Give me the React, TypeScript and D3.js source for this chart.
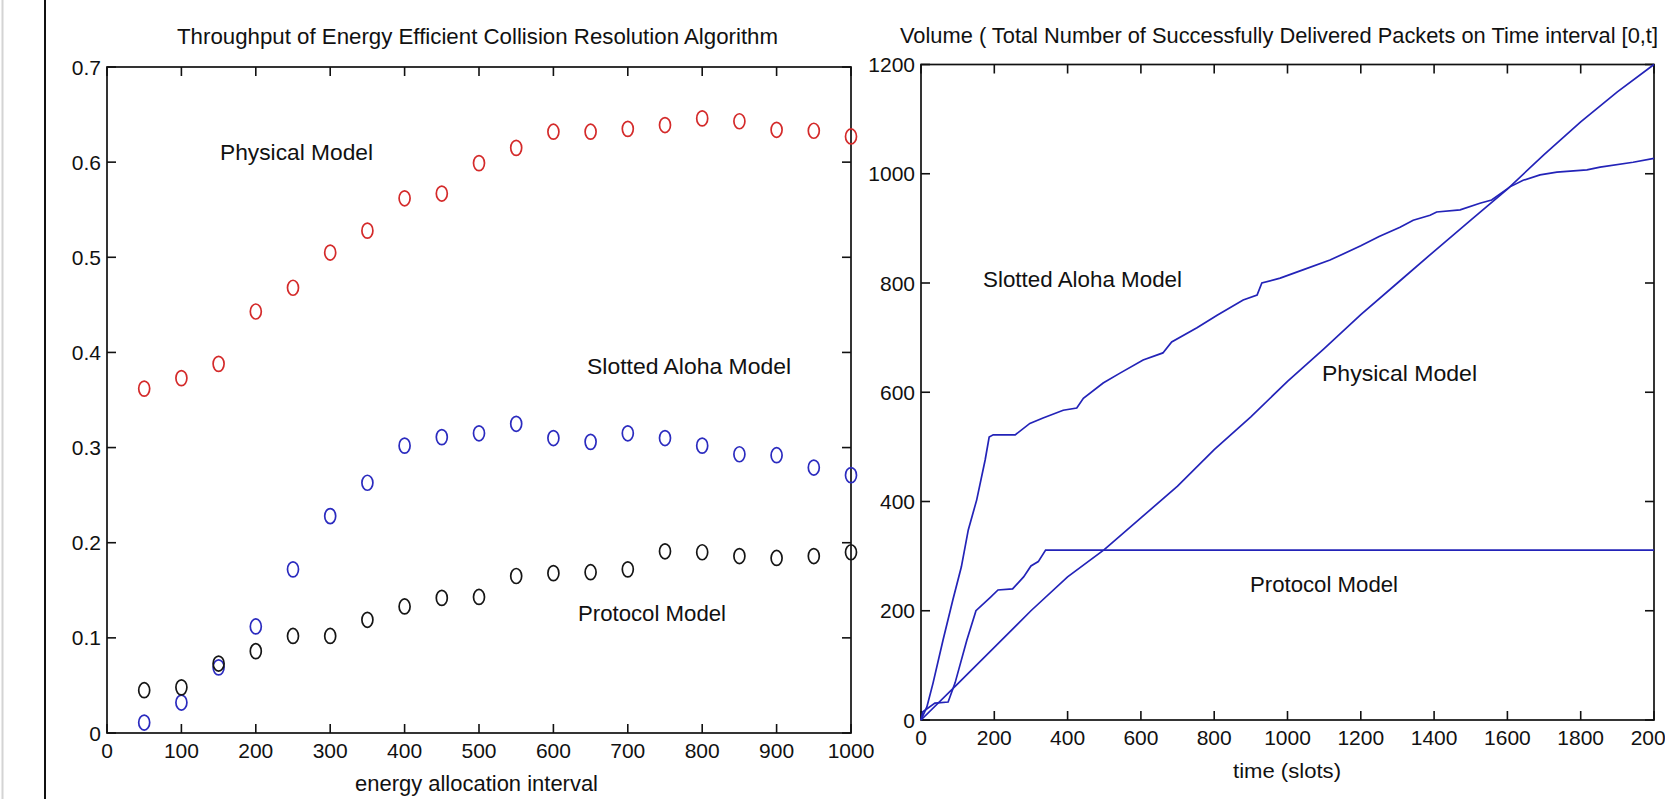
import React from "react";
import * as d3 from "d3";

// left panel: throughput vs energy allocation interval
const energyInterval = [50, 100, 150, 200, 250, 300, 350, 400, 450, 500, 550, 600, 650, 700, 750, 800, 850, 900, 950, 1000];
const physicalThroughput = [0.362, 0.373, 0.388, 0.443, 0.468, 0.505, 0.528, 0.562, 0.567, 0.599, 0.615, 0.632, 0.632, 0.635, 0.639, 0.646, 0.643, 0.634, 0.633, 0.627];
const slottedThroughput = [0.011, 0.032, 0.069, 0.112, 0.172, 0.228, 0.263, 0.302, 0.311, 0.315, 0.325, 0.31, 0.306, 0.315, 0.31, 0.302, 0.293, 0.292, 0.279, 0.271];
const protocolThroughput = [0.045, 0.048, 0.073, 0.086, 0.102, 0.102, 0.119, 0.133, 0.142, 0.143, 0.165, 0.168, 0.169, 0.172, 0.191, 0.19, 0.186, 0.184, 0.186, 0.19];

const leftXTicks = [0, 100, 200, 300, 400, 500, 600, 700, 800, 900, 1000];
const leftYTicks = [0, 0.1, 0.2, 0.3, 0.4, 0.5, 0.6, 0.7];

// right panel: cumulative delivered packets vs time (slots)
const slottedVolume: [number, number][] = [
  [0, 0], [16, 24], [33, 68], [60, 146], [87, 220], [110, 280], [129, 348], [152, 403], [175, 476], [186, 518],
  [197, 522], [257, 522], [297, 543], [333, 553], [388, 567], [425, 571], [443, 589], [497, 617], [543, 635],
  [606, 659], [660, 672], [684, 692], [753, 718], [808, 741], [879, 769], [917, 778], [930, 800], [980, 809],
  [1042, 824], [1116, 842], [1200, 868], [1250, 885], [1307, 902], [1343, 915], [1389, 924], [1407, 930],
  [1471, 934], [1525, 946], [1557, 952], [1607, 976], [1643, 988], [1689, 998], [1735, 1003], [1817, 1007],
  [1853, 1012], [1943, 1021], [2000, 1028],
];
const physicalVolume: [number, number][] = [
  [0, 0], [100, 66], [200, 133], [300, 200], [400, 262], [500, 312], [600, 370], [700, 428], [800, 495],
  [900, 555], [1000, 620], [1100, 680], [1200, 742], [1300, 800], [1400, 858], [1500, 915], [1600, 972],
  [1700, 1035], [1800, 1095], [1900, 1150], [2000, 1200],
];
const protocolVolume: [number, number][] = [
  [0, 0], [5, 15], [38, 31], [74, 33], [93, 68], [125, 146], [150, 200], [190, 225], [210, 238], [250, 240],
  [280, 262], [300, 282], [320, 290], [340, 311], [2000, 311],
];

const rightXTicks = [0, 200, 400, 600, 800, 1000, 1200, 1400, 1600, 1800, 2000];
const rightYTicks = [0, 200, 400, 600, 800, 1000, 1200];

const W = 1665;
const H = 799;
const font = "'Liberation Sans', Arial, sans-serif";
const tickLen = 9;

const leftBox = { x0: 107, x1: 851, y0: 67, y1: 733 };
const rightBox = { x0: 921, x1: 1654, y0: 64.5, y1: 720 };

type Box = typeof leftBox;

function Frame({ box, x, y, xTicks, yTicks, fmtY }: {
  box: Box;
  x: d3.ScaleLinear<number, number>;
  y: d3.ScaleLinear<number, number>;
  xTicks: number[];
  yTicks: number[];
  fmtY: (v: number) => string;
}) {
  return (
    <g>
      <rect x={box.x0} y={box.y0} width={box.x1 - box.x0} height={box.y1 - box.y0} fill="none" stroke="#111" strokeWidth={1.7} />
      {xTicks.map((t) => (
        <g key={"x" + t}>
          <line x1={x(t)} x2={x(t)} y1={box.y1} y2={box.y1 - tickLen} stroke="#111" strokeWidth={1.6} />
          <line x1={x(t)} x2={x(t)} y1={box.y0} y2={box.y0 + tickLen} stroke="#111" strokeWidth={1.6} />
          <text x={x(t)} y={box.y1 + 25} textAnchor="middle" fontSize={21} fontFamily={font} fill="#111">{String(t)}</text>
        </g>
      ))}
      {yTicks.map((t) => (
        <g key={"y" + t}>
          <line x1={box.x0} x2={box.x0 + tickLen} y1={y(t)} y2={y(t)} stroke="#111" strokeWidth={1.6} />
          <line x1={box.x1} x2={box.x1 - tickLen} y1={y(t)} y2={y(t)} stroke="#111" strokeWidth={1.6} />
          <text x={box.x0 - 6} y={y(t) + 7.5} textAnchor="end" fontSize={21} fontFamily={font} fill="#111">{fmtY(t)}</text>
        </g>
      ))}
    </g>
  );
}

function Label({ x, y, w, children, size = 22 }: { x: number; y: number; w: number; children: string; size?: number }) {
  return (
    <text x={x} y={y} fontSize={size} fontFamily={font} fill="#111" textLength={w} lengthAdjust="spacingAndGlyphs">
      {children}
    </text>
  );
}

export default function App() {
  const lx = d3.scaleLinear().domain([0, 1000]).range([leftBox.x0, leftBox.x1]);
  const ly = d3.scaleLinear().domain([0, 0.7]).range([leftBox.y1, leftBox.y0]);
  const rx = d3.scaleLinear().domain([0, 2000]).range([rightBox.x0, rightBox.x1]);
  const ry = d3.scaleLinear().domain([0, 1200]).range([rightBox.y1, rightBox.y0]);

  const line = d3.line<[number, number]>().x((d) => rx(d[0])).y((d) => ry(d[1]));

  const scatter = [
    { vals: physicalThroughput, color: "#d42a2a" },
    { vals: slottedThroughput, color: "#2b2bbf" },
    { vals: protocolThroughput, color: "#151515" },
  ];

  return (
    <svg width={W} height={H} style={{ position: "absolute", left: 0, top: 0, background: "#fff" }}>
      <rect x={0} y={0} width={W} height={H} fill="#fff" />
      <line x1={2.5} x2={2.5} y1={0} y2={H} stroke="#d4d4d4" strokeWidth={2} />
      <line x1={45} x2={45} y1={0} y2={H} stroke="#111" strokeWidth={2} />

      {/* left panel */}
      <Frame box={leftBox} x={lx} y={ly} xTicks={leftXTicks} yTicks={leftYTicks} fmtY={(v) => (v === 0 ? "0" : v.toFixed(1))} />
      {scatter.map((s, si) =>
        s.vals.map((v, i) => (
          <ellipse key={si + "-" + i} cx={lx(energyInterval[i])} cy={ly(v)} rx={5.5} ry={7.5} fill="none" stroke={s.color} strokeWidth={1.7} />
        ))
      )}
      <Label x={177} y={44} w={601}>Throughput of Energy Efficient Collision Resolution Algorithm</Label>
      <Label x={220} y={160} w={153}>Physical Model</Label>
      <Label x={587} y={374} w={204}>Slotted Aloha Model</Label>
      <Label x={578} y={621} w={148}>Protocol Model</Label>
      <Label x={355} y={791} w={243}>energy allocation interval</Label>

      {/* right panel */}
      <Frame box={rightBox} x={rx} y={ry} xTicks={rightXTicks} yTicks={rightYTicks} fmtY={(v) => String(v)} />
      {[slottedVolume, physicalVolume, protocolVolume].map((d, i) => (
        <path key={i} d={line(d) || ""} fill="none" stroke="#2323b8" strokeWidth={1.7} />
      ))}
      <Label x={900} y={43} w={758}>Volume ( Total Number of Successfully Delivered Packets on Time interval [0,t]</Label>
      <Label x={983} y={287} w={199}>Slotted Aloha Model</Label>
      <Label x={1322} y={381} w={155}>Physical Model</Label>
      <Label x={1250} y={592} w={148}>Protocol Model</Label>
      <Label x={1233} y={778} w={108} size={21}>time (slots)</Label>
    </svg>
  );
}
